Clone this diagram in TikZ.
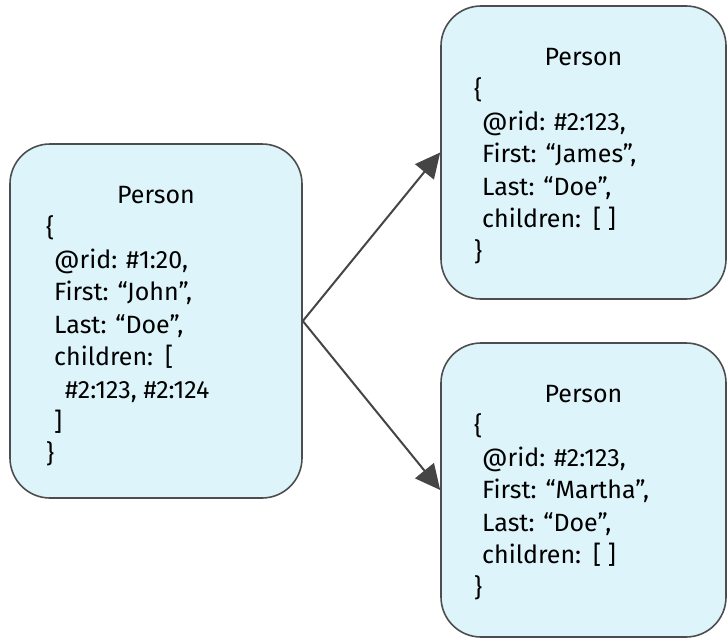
\documentclass[tikz,border=0pt]{standalone}
\usepackage{fontspec}
\setmainfont{Fira Sans}
\usetikzlibrary{arrows.meta}
\definecolor{boxfill}{HTML}{DDF4FA}
\definecolor{boxline}{HTML}{4D4D4D}
\definecolor{linkcol}{HTML}{454545}
\newcommand{\boxfont}{\fontsize{25pt}{32.4pt}\selectfont}
\tikzset{
  x=1pt, y=-1pt,
  recbox/.style={draw=boxline, line width=1.6pt, fill=boxfill,
    rounded corners=40pt, inner sep=0pt},
  rectitle/.style={font=\boxfont, inner sep=0pt, anchor=base},
  recbody/.style={font=\boxfont, align=left, inner sep=0pt, anchor=north west},
  link/.style={draw=linkcol, line width=2pt,
    -{Triangle[length=25pt,width=24pt]}}
}
\begin{document}
\begin{tikzpicture}
\useasboundingbox (0,0) rectangle (727,642);

% record boxes
\node[recbox, minimum width=292pt, minimum height=354pt] (john) at (156,321) {};
\node[recbox, minimum width=285pt, minimum height=293pt] (james) at (583.5,152.5) {};
\node[recbox, minimum width=285pt, minimum height=294pt] (martha) at (583.5,490) {};

% titles
\node[rectitle] (johnT) at ([yshift=-60pt]john.north) {Person};
\node[rectitle] (jamesT) at ([yshift=-60pt]james.north) {Person};
\node[rectitle] (marthaT) at ([yshift=-60pt]martha.north) {Person};

% record contents
\node[recbody] (johnB) at (46,215) {\{\\
\hspace*{8pt}@rid: \#1:20,\\
\hspace*{8pt}First: “John”,\\
\hspace*{8pt}Last: “Doe”,\\
\hspace*{8pt}children:\hspace{12pt}[\\
\hspace*{19pt}\#2:123, \#2:124\\
\hspace*{8pt}]\\
\}};
\node[recbody] (jamesB) at (474,77) {\{\\
\hspace*{8pt}@rid: \#2:123,\\
\hspace*{8pt}First: “James”,\\
\hspace*{8pt}Last: “Doe”,\\
\hspace*{8pt}children:\hspace{12pt}[ ]\\
\}};
\node[recbody] (marthaB) at (474,413) {\{\\
\hspace*{8pt}@rid: \#2:123,\\
\hspace*{8pt}First: “Martha”,\\
\hspace*{8pt}Last: “Doe”,\\
\hspace*{8pt}children:\hspace{12pt}[ ]\\
\}};

% child links
\draw[link] (john.east) -- (james.west);
\draw[link] (john.east) -- (martha.west);
\end{tikzpicture}
\end{document}
